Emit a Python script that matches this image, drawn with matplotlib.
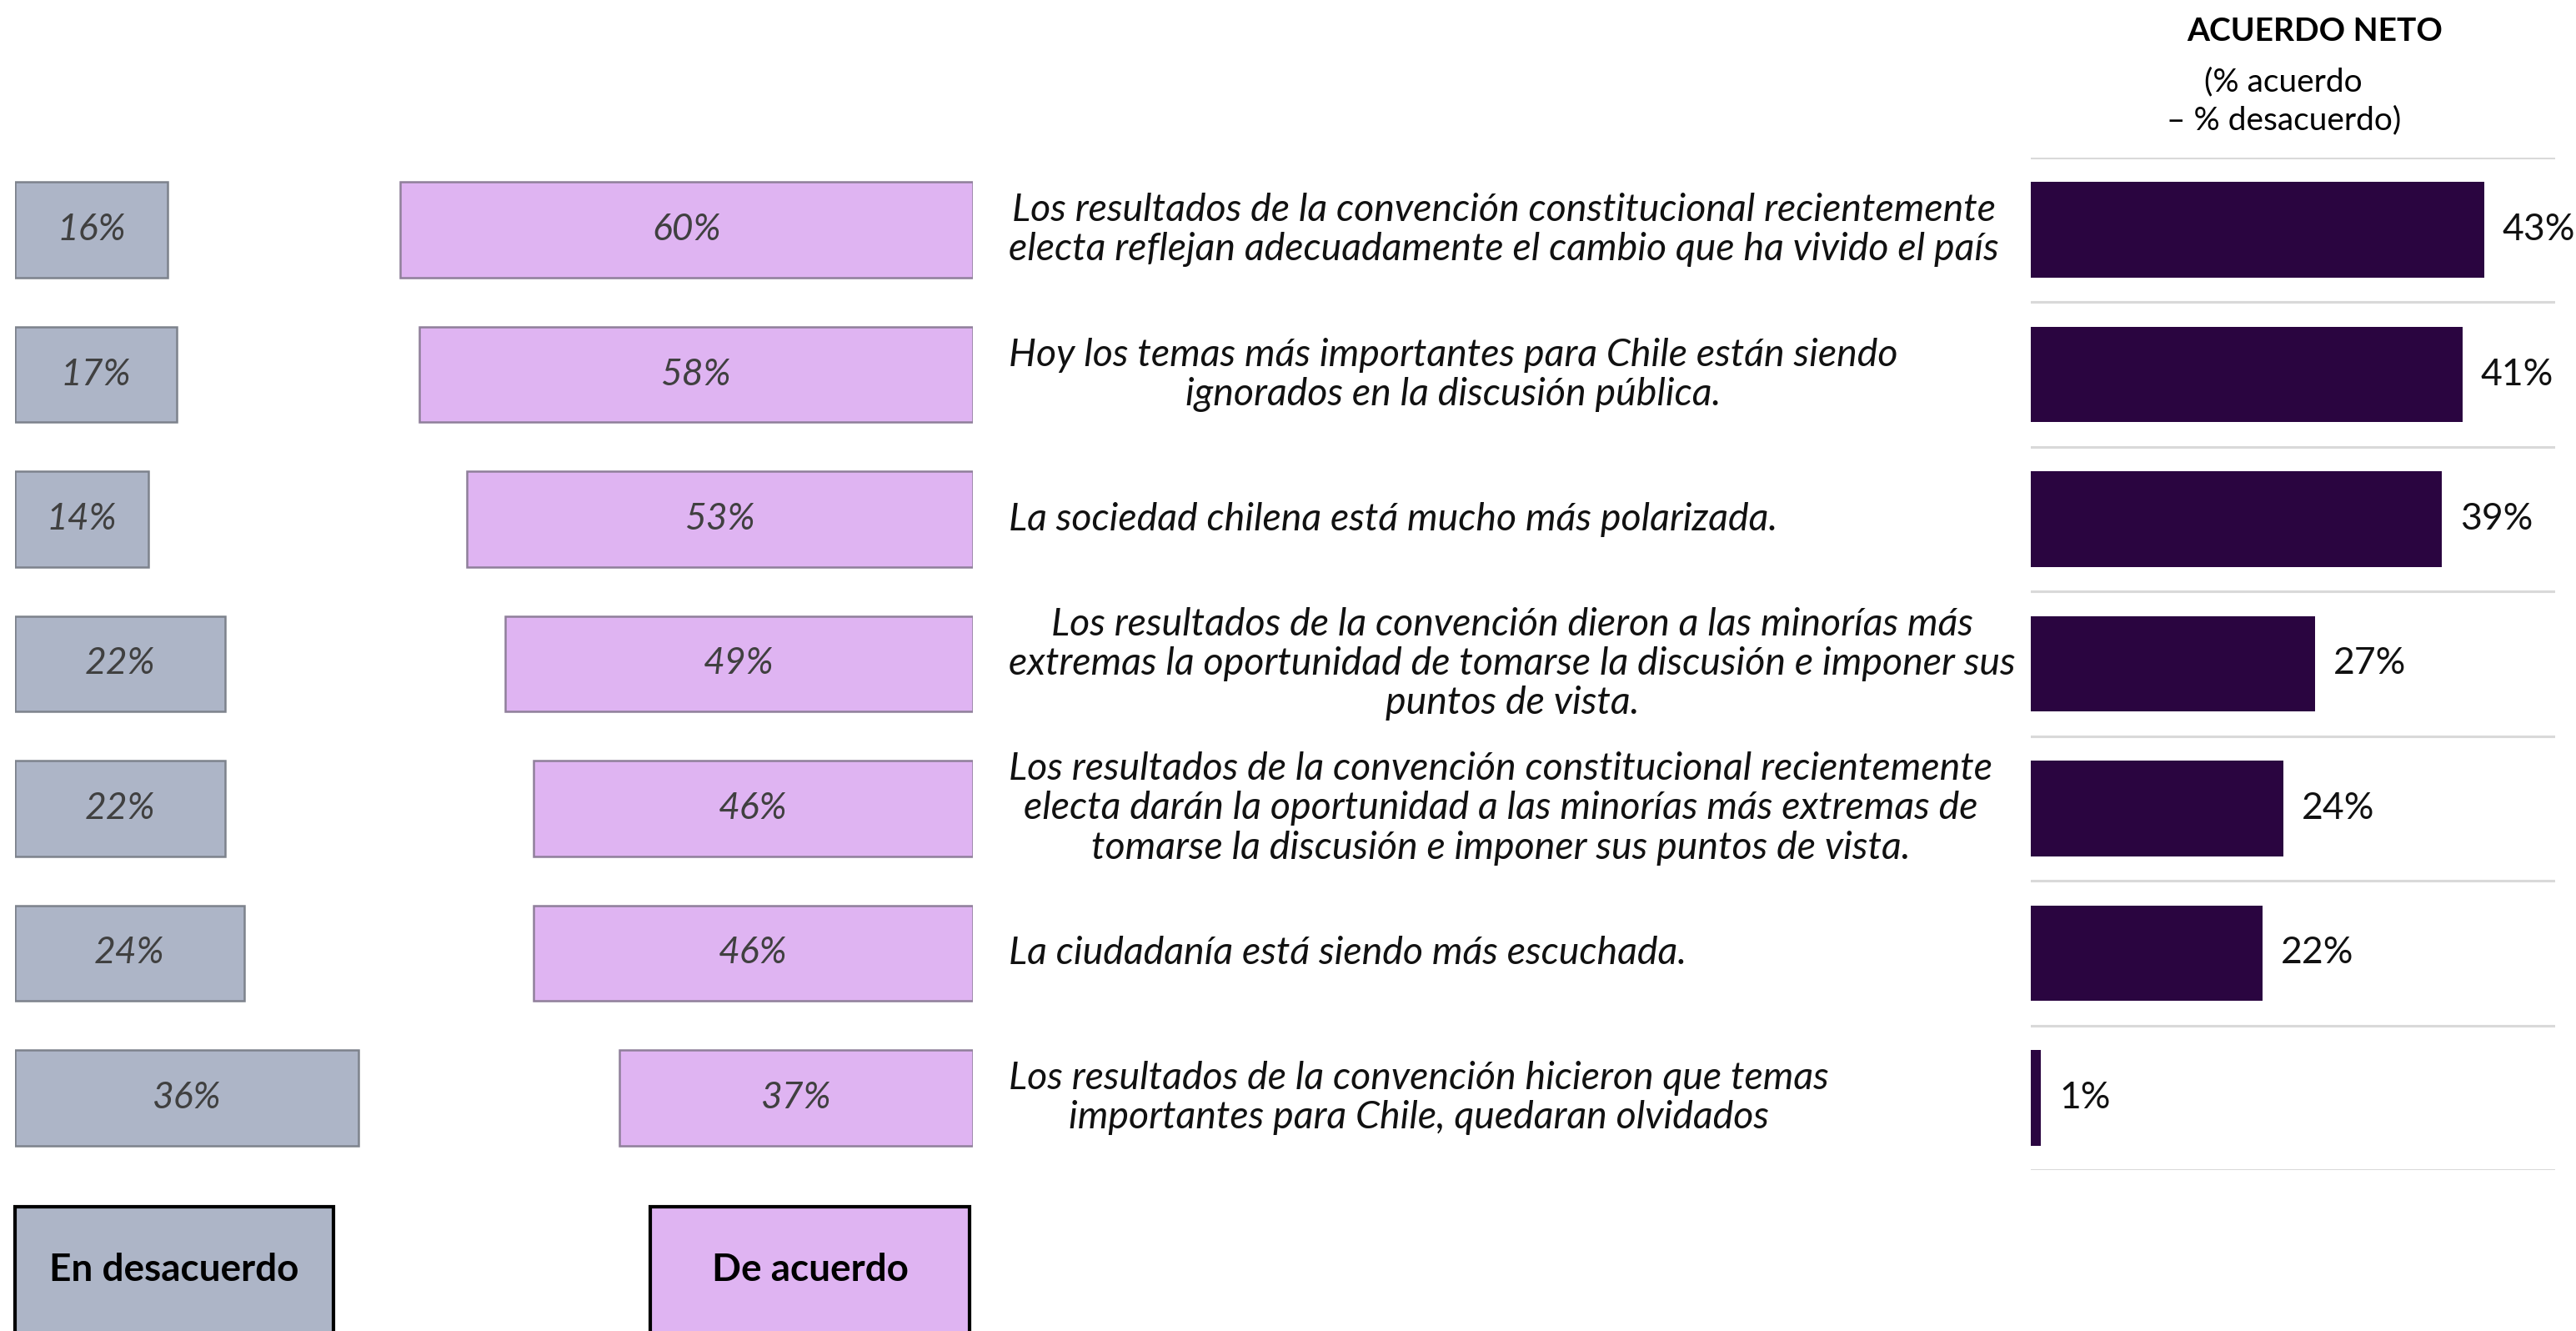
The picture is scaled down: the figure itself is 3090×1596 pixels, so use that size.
import matplotlib.pyplot as plt
from matplotlib.patches import Rectangle
import matplotlib.transforms as mtransforms

plt.rcParams['font.family'] = ['Lato', 'DejaVu Sans']

statements = [
    "Los resultados de la convención constitucional recientemente\nelecta reflejan adecuadamente el cambio que ha vivido el país",
    "Hoy los temas más importantes para Chile están siendo\nignorados en la discusión pública.",
    "La sociedad chilena está mucho más polarizada.",
    "Los resultados de la convención dieron a las minorías más\nextremas la oportunidad de tomarse la discusión e imponer sus\npuntos de vista.",
    "Los resultados de la convención constitucional recientemente\nelecta darán la oportunidad a las minorías más extremas de\ntomarse la discusión e imponer sus puntos de vista.",
    "La ciudadanía está siendo más escuchada.",
    "Los resultados de la convención hicieron que temas\nimportantes para Chile, quedaran olvidados",
]
desacuerdo = [16, 17, 14, 22, 22, 24, 36]
acuerdo = [60, 58, 53, 49, 46, 46, 37]
neto = [43, 41, 39, 27, 24, 22, 1]

gray = "#adb5c7"
gray_edge = "#7d828c"
pink = "#dfb4f2"
pink_edge = "#8f7f9a"
dark = "#2a0540"

W, H = 3090, 1596
fig = plt.figure(figsize=(W / 100, H / 100), dpi=100)

rows = list(range(len(statements)))
bottom = 1 - 1403 / H
height = (1403 - 189) / H
bar_h = 0.66

# left: en desacuerdo
ax1 = fig.add_axes([17.7 / W, bottom, 40 * 11.45 / W, height])
ax1.barh(rows, desacuerdo, height=bar_h, color=gray, edgecolor=gray_edge, linewidth=1.8)
ax1.set_xlim(0, 40)
for r, v in zip(rows, desacuerdo):
    ax1.text(v / 2, r, f"{v}%", ha="center", va="center", fontsize=32,
             style="italic", color="#404040")

# middle: de acuerdo (grows leftwards)
ax2 = fig.add_axes([(1166.7 - 70 * 11.45) / W, bottom, 70 * 11.45 / W, height])
ax2.barh(rows, acuerdo, height=bar_h, color=pink, edgecolor=pink_edge, linewidth=1.8)
ax2.set_xlim(70, 0)
for r, v in zip(rows, acuerdo):
    ax2.text(v / 2, r, f"{v}%", ha="center", va="center", fontsize=32,
             style="italic", color="#404040")

# right: acuerdo neto
ax3 = fig.add_axes([2435.8 / W, bottom, 628.7 / W, height])
ax3.barh(rows, neto, height=bar_h, color=dark)
ax3.set_xlim(0, 628.7 / 12.65)
for y in [r - 0.5 for r in rows] + [len(rows) - 0.5]:
    ax3.axhline(y, color="#d9d9d9", lw=2.2)
for r, v in zip(rows, neto):
    ax3.text(v + 1.7, r, f"{v}%", ha="left", va="center", fontsize=32,
             color="#111111", clip_on=False)

for ax in (ax1, ax2, ax3):
    ax.set_ylim(len(rows) - 0.5, -0.5)
    ax.axis("off")

# statements
trans = mtransforms.blended_transform_factory(fig.transFigure, ax3.transData)
for r, s in zip(rows, statements):
    fig.text(1210 / W, r, s, transform=trans, ha="left", va="center",
             multialignment="center", fontsize=33.5, style="italic",
             color="#111111", linespacing=1.15)

# header
fig.text(0.8985, 0.9766, "ACUERDO NETO", ha="center", va="center",
         fontsize=28, fontweight="bold")
fig.text(0.8865, 0.9383, "(% acuerdo", ha="center", va="center", fontsize=28)
fig.text(0.8865, 0.9098, "– % desacuerdo)", ha="center", va="center", fontsize=28)

# legend boxes
for x0, x1, fc, label in [(17.7, 400, gray, "En desacuerdo"),
                          (780, 1163, pink, "De acuerdo")]:
    fig.patches.append(Rectangle((x0 / W, -0.05), (x1 - x0) / W, 0.05 + 1 - 1447 / H,
                                 transform=fig.transFigure, facecolor=fc,
                                 edgecolor="black", linewidth=3))
    fig.text((x0 + x1) / 2 / W, 1 - 1523 / H, label, ha="center", va="center",
             fontsize=33, fontweight="bold")

fig.savefig("out.png", dpi=100)
